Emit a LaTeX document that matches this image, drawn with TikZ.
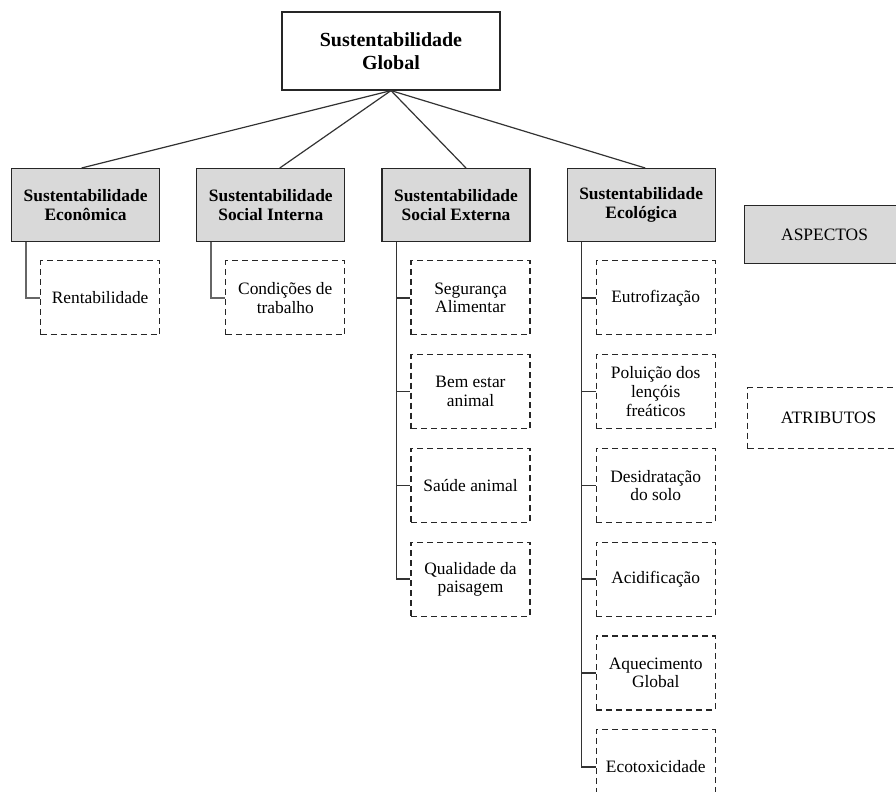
\documentclass[tikz,border=0pt]{standalone}
\usepackage{fontspec}
\setmainfont{Liberation Serif}
\usetikzlibrary{positioning,calc}
\tikzset{
  topo/.style={rectangle, draw=black!85, line width=0.6pt, minimum width=109pt, minimum height=39pt, align=center, font=\fontsize{10}{11.7}\selectfont\bfseries},
  aspecto/.style={rectangle, draw=black!85, fill=black!15, line width=0.6pt, minimum width=74pt, minimum height=36.5pt, align=center, inner sep=1pt, font=\fontsize{8.7}{9.3}\selectfont\bfseries, node distance=18pt},
  atributo/.style={rectangle, draw=black!85, dash pattern=on 3pt off 2pt, line width=0.6pt, minimum width=59.5pt, minimum height=37pt, align=center, inner sep=1pt, font=\fontsize{8.7}{9.3}\selectfont, node distance=9.3pt},
  connect/.style={line width=0.6pt, draw=black!80},
  ramo/.style={line width=0.8pt, draw=black!80}
}
\begin{document}
\begin{tikzpicture}
    \useasboundingbox (0,0) rectangle (448pt,-396pt);
    \clip (0,0) rectangle (448pt,-396pt);

    \node[topo] (Global) at (195.5pt,-25.5pt) {Sustentabilidade\\Global};
    \node[aspecto, anchor=north west] (Econ) at (5.5pt,-84pt) {Sustentabilidade\\Econômica};
    \node[aspecto] (SocInt) [right=of Econ] {Sustentabilidade\\Social Interna};
    \node[aspecto] (SocExt) [right=of SocInt] {Sustentabilidade\\Social Externa};
    \node[aspecto] (Ecol) [right=of SocExt] {Sustentabilidade\\Ecológica};

    \node[atributo] (Rent) [below left=9pt and 0pt of Econ.south east] {Rentabilidade};
    \node[atributo] (Cond) [below left=9pt and 0pt of SocInt.south east] {Condições de\\trabalho};
    \node[atributo] (Seg) [below left=9pt and 0pt of SocExt.south east] {Segurança\\Alimentar};
    \node[atributo] (Bem) [below=of Seg] {Bem estar\\animal};
    \node[atributo] (Saude) [below=of Bem] {Saúde animal};
    \node[atributo] (Paisagem) [below=of Saude] {Qualidade da\\paisagem};
    \node[atributo] (Eutro) [below left=9pt and 0pt of Ecol.south east] {Eutrofização};
    \node[atributo] (Polui) [below=of Eutro] {Poluição dos\\lençóis\\freáticos};
    \node[atributo] (Desid) [below=of Polui] {Desidratação\\do solo};
    \node[atributo] (Acid) [below=of Desid] {Acidificação};
    \node[atributo] (Aquec) [below=of Acid] {Aquecimento\\Global};
    \node[atributo] (Ecotox) [below=of Aquec] {Ecotoxicidade};

    \node[aspecto, font=\fontsize{8.7}{9.3}\selectfont, minimum width=80pt, minimum height=29pt, anchor=north west] (LegAsp) at (372pt,-102.5pt) {ASPECTOS};
    \node[atributo, minimum width=81pt, minimum height=30.5pt, anchor=north west] (LegAtr) at (373.5pt,-193.5pt) {ATRIBUTOS};

    \foreach \a/\d in {Econ/-2pt,SocInt/4.5pt,SocExt/5pt,Ecol/2pt}
        \draw[connect] (Global.south) -- ([xshift=\d]\a.north);
    \draw[ramo, draw=black!60] ([xshift=7.5pt]Econ.south west) |- (Rent.west);
    \draw[ramo, draw=black!60] ([xshift=7.5pt]SocInt.south west) |- (Cond.west);
    \foreach \b in {Seg,Bem,Saude,Paisagem}
        \draw[ramo] ([xshift=7.5pt]SocExt.south west) |- (\b.west);
    \foreach \b in {Eutro,Polui,Desid,Acid,Aquec,Ecotox}
        \draw[ramo] ([xshift=7.5pt]Ecol.south west) |- (\b.west);
\end{tikzpicture}
\end{document}
